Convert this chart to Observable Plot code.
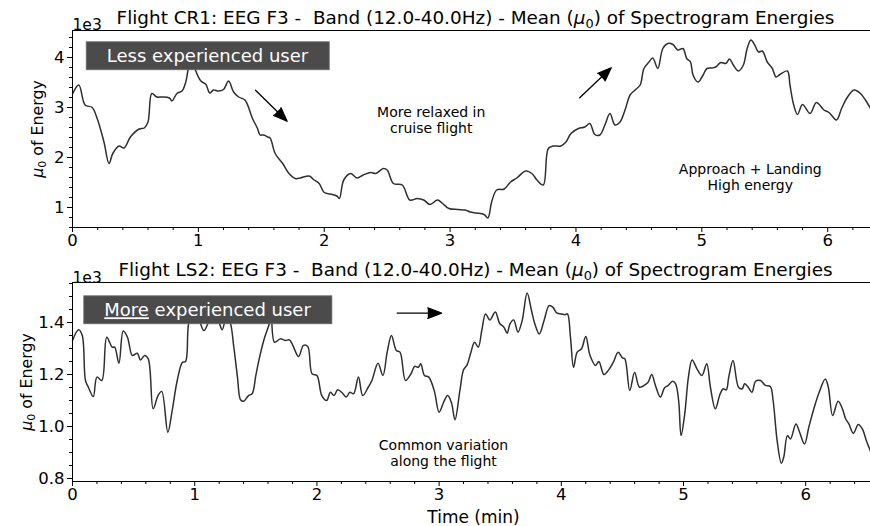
<!DOCTYPE html>
<html>
<head>
<meta charset="utf-8">
<script src="https://cdn.jsdelivr.net/npm/d3@7"></script>
<script src="https://cdn.jsdelivr.net/npm/@observablehq/plot@0.6"></script>
<style>
  body { margin: 0; background: #fff; }
  #chart { width: 870px; height: 526px; font-family: "DejaVu Sans", sans-serif; }
  #chart svg { display: block; font-family: "DejaVu Sans", sans-serif; }
</style>
</head>
<body>
<div id="chart"></div>
<script>
// Flight CR1 (less experienced pilot): mean spectrogram energy, F3, 12-40 Hz, in units of 1e3
const cr1Time = [0.00,0.05,0.10,0.156,0.196,0.25,0.29,0.32,0.37,0.41,0.46,0.53,0.57,0.60,0.63,0.67,0.71,0.77,0.79,0.83,0.87,0.90,0.92,0.95,0.977,1.02,1.06,1.09,1.12,1.16,1.20,1.24,1.28,1.32,1.37,1.43,1.47,1.49,1.52,1.55,1.57,1.61,1.67,1.72,1.77,1.81,1.88,1.92,1.96,2.00,2.05,2.10,2.12,2.155,2.21,2.26,2.31,2.37,2.41,2.47,2.50,2.55,2.62,2.68,2.74,2.79,2.84,2.90,2.94,2.99,3.06,3.12,3.16,3.21,3.27,3.30,3.33,3.37,3.43,3.48,3.53,3.60,3.65,3.69,3.74,3.78,3.82,3.88,3.92,3.96,4.02,4.07,4.11,4.15,4.19,4.23,4.27,4.31,4.35,4.39,4.43,4.47,4.51,4.54,4.58,4.61,4.65,4.69,4.73,4.77,4.81,4.85,4.88,4.91,4.93,4.97,5.01,5.04,5.08,5.11,5.15,5.19,5.22,5.25,5.29,5.33,5.36,5.39,5.42,5.45,5.48,5.52,5.56,5.59,5.62,5.68,5.70,5.73,5.76,5.80,5.86,5.91,5.97,6.01,6.07,6.11,6.15,6.21,6.26,6.30,6.34];
const cr1Energy = [3.27,3.45,3.05,3.00,2.78,2.31,1.88,2.08,2.23,2.19,2.41,2.57,2.59,2.71,3.28,3.21,3.21,3.19,3.13,3.28,3.33,3.51,3.78,4.05,3.75,3.53,3.46,3.29,3.35,3.33,3.36,3.53,3.31,3.21,3.15,2.78,2.58,2.45,2.45,2.41,2.39,2.08,1.88,1.68,1.58,1.59,1.63,1.55,1.48,1.30,1.27,1.23,1.18,1.55,1.68,1.59,1.65,1.70,1.68,1.78,1.75,1.48,1.45,1.15,1.18,1.15,1.06,1.15,1.08,0.98,0.96,0.95,0.91,0.89,0.86,0.79,1.11,1.35,1.37,1.51,1.59,1.73,1.68,1.55,1.45,2.18,2.23,2.23,2.31,2.48,2.58,2.61,2.68,2.46,2.45,2.65,2.88,2.65,2.71,2.95,3.25,3.35,3.45,3.78,3.91,3.99,3.78,4.18,4.28,4.26,4.15,4.18,3.98,3.91,3.65,3.51,3.65,3.78,3.79,3.81,3.90,3.88,3.97,3.85,3.73,3.85,4.18,4.35,4.25,4.11,4.13,3.91,3.78,3.61,3.66,3.73,3.45,3.05,2.86,3.06,2.88,3.10,2.95,2.90,2.75,2.98,3.18,3.35,3.28,3.15,2.98];

// Flight LS2 (more experienced pilot), same measure
const ls2Time = [0.00,0.05,0.08,0.106,0.13,0.17,0.20,0.24,0.28,0.325,0.345,0.38,0.415,0.45,0.49,0.53,0.556,0.59,0.62,0.66,0.70,0.73,0.78,0.816,0.857,0.90,0.925,0.95,0.99,1.03,1.075,1.12,1.16,1.20,1.225,1.26,1.29,1.32,1.35,1.375,1.40,1.44,1.47,1.50,1.525,1.565,1.61,1.625,1.653,1.70,1.74,1.775,1.80,1.85,1.89,1.925,1.96,2.00,2.04,2.08,2.11,2.14,2.17,2.21,2.24,2.27,2.30,2.34,2.375,2.42,2.45,2.50,2.54,2.575,2.61,2.65,2.68,2.725,2.77,2.80,2.83,2.85,2.88,2.915,2.96,3.00,3.04,3.07,3.10,3.13,3.17,3.20,3.23,3.257,3.29,3.32,3.35,3.38,3.415,3.46,3.495,3.53,3.557,3.58,3.61,3.645,3.68,3.72,3.756,3.783,3.82,3.86,3.90,3.93,3.965,4.00,4.03,4.05,4.075,4.10,4.13,4.165,4.20,4.235,4.28,4.307,4.348,4.38,4.425,4.465,4.50,4.52,4.56,4.60,4.64,4.69,4.71,4.74,4.77,4.81,4.845,4.875,4.91,4.935,4.96,4.98,5.01,5.04,5.07,5.11,5.15,5.19,5.22,5.26,5.30,5.325,5.35,5.37,5.405,5.45,5.48,5.50,5.525,5.56,5.59,5.63,5.67,5.71,5.733,5.766,5.80,5.82,5.85,5.875,5.92,5.95,5.99,6.025,6.07,6.11,6.16,6.185,6.22,6.265,6.30,6.326,6.353,6.39,6.43,6.463,6.50,6.53];
const ls2Energy = [1.331,1.372,1.35,1.177,1.151,1.115,1.19,1.177,1.343,1.305,1.305,1.243,1.367,1.343,1.273,1.282,1.256,1.273,1.26,1.068,1.119,1.135,0.978,1.062,1.177,1.247,1.25,1.395,1.45,1.42,1.369,1.41,1.45,1.40,1.372,1.42,1.40,1.305,1.19,1.103,1.097,1.119,1.126,1.196,1.254,1.331,1.395,1.43,1.324,1.337,1.331,1.333,1.315,1.269,1.312,1.308,1.203,1.196,1.119,1.10,1.132,1.119,1.141,1.128,1.113,1.132,1.126,1.19,1.119,1.151,1.177,1.243,1.196,1.286,1.35,1.292,1.286,1.177,1.203,1.231,1.228,1.241,1.196,1.19,1.138,1.055,1.097,1.119,1.093,1.026,1.138,1.218,1.238,1.28,1.324,1.305,1.372,1.433,1.41,1.44,1.397,1.382,1.359,1.395,1.41,1.363,1.408,1.513,1.446,1.395,1.356,1.41,1.465,1.459,1.436,1.433,1.43,1.433,1.343,1.228,1.286,1.299,1.346,1.273,1.235,1.25,1.20,1.213,1.247,1.286,1.264,1.26,1.138,1.209,1.151,1.162,1.17,1.20,1.158,1.113,1.149,1.158,1.174,1.164,1.10,0.965,1.049,1.19,1.256,1.222,1.196,1.241,1.151,1.068,1.126,1.145,1.141,1.19,1.254,1.151,1.145,1.164,1.154,1.132,1.174,1.177,1.158,1.154,1.10,0.946,0.859,0.882,0.965,0.952,1.01,0.978,0.933,0.997,1.074,1.132,1.183,1.151,1.042,1.097,1.068,1.03,1.01,0.974,1.008,0.991,0.94,0.905];

// Axis ticks
const timeTicks = [0, 1, 2, 3, 4, 5, 6];
const cr1EnergyTicks = [1, 2, 3, 4];
const ls2EnergyTicks = [0.8, 1.0, 1.2, 1.4];

// Annotations (data coordinates: minutes, energy / 1e3)
const cr1BadgeLabel = ["Less experienced user"];
const cr1BadgeTime = [1.072];
const cr1BadgeEnergy = [4.02];
const cr1NoteText = ["More relaxed in\ncruise flight", "Approach + Landing\nHigh energy"];
const cr1NoteTime = [2.85, 5.385];
const cr1NoteEnergy = [2.746, 1.612];
const cr1ArrowFrom = [[1.454, 3.346], [4.03, 3.194]];
const cr1ArrowTo = [[1.705, 2.726], [4.28, 3.794]];

const ls2BadgeLabel = ["More experienced user"];
const ls2BadgeTime = [1.105];
const ls2BadgeEnergy = [1.446];
const ls2NoteText = ["Common variation\nalong the flight"];
const ls2NoteTime = [3.036];
const ls2NoteEnergy = [0.898];
const ls2ArrowFrom = [[2.657, 1.436]];
const ls2ArrowTo = [[3.02, 1.436]];

const TITLE_TAIL = " EEG F3 -  Band (12.0-40.0Hz) - Mean (μ0) of Spectrogram Energies";

function minorTicks(lo, hi, step, majors) {
  const out = [];
  for (let k = Math.ceil(lo / step - 1e-9); k * step <= hi + 1e-9; k++) {
    const v = +(k * step).toFixed(6);
    if (!majors.some(m => Math.abs(m - v) < 1e-6)) out.push(v);
  }
  return out;
}

function panel(cfg) {
  const rows = cfg.time.map((t, i) => ({t, e: cfg.energy[i]}));
  const notes = cfg.noteText.map((s, i) => ({s, t: cfg.noteTime[i], e: cfg.noteEnergy[i]}));
  const badge = cfg.badgeLabel.map((s, i) => ({s, t: cfg.badgeTime[i], e: cfg.badgeEnergy[i]}));
  const arrows = cfg.arrowFrom.map((a, i) => ({t1: a[0], e1: a[1], t2: cfg.arrowTo[i][0], e2: cfg.arrowTo[i][1]}));
  const [y0, y1] = cfg.yDomain;
  const marks = [
    Plot.line(rows, {x: "t", y: "e", stroke: "#2f2f2f", strokeWidth: 1.5, curve: "catmull-rom"}),
    Plot.ruleX([0], {stroke: "black", strokeWidth: 1}),
    Plot.ruleY([y0], {stroke: "black", strokeWidth: 1}),
    Plot.ruleY([y1], {stroke: "black", strokeWidth: 1.2}),
    Plot.axisX(timeTicks, {tickSize: 5, tickPadding: 2, fontSize: 16.5, tickFormat: d => String(d), label: null}),
    Plot.axisX(minorTicks(0, cfg.xMax, 0.2, timeTicks), {tickSize: 3, tickFormat: () => "", label: null}),
    Plot.axisY(cfg.yTicks, {tickSize: 5, tickPadding: 3, fontSize: 16.5, tickFormat: cfg.yFormat, label: null}),
    Plot.axisY(minorTicks(y0, y1, cfg.yMinor, cfg.yTicks), {tickSize: 3, tickFormat: () => "", label: null}),
    Plot.text([cfg.title], {frameAnchor: "top", textAnchor: "middle", lineAnchor: "middle", dx: 4, dy: cfg.titleDy, fontSize: 18.4}),
    Plot.text(["1e3"], {frameAnchor: "top-left", textAnchor: "start", lineAnchor: "middle", dx: 0, dy: cfg.expDy, fontSize: 15.5}),
    Plot.text(["μ0 of Energy"], {frameAnchor: "left", textAnchor: "middle", lineAnchor: "middle", rotate: -90, dx: cfg.yLabelDx, fontSize: 15.8}),
    Plot.text(notes, {x: "t", y: "e", text: "s", fontSize: 14, lineHeight: 1.12}),
    Plot.arrow(arrows, {x1: "t1", y1: "e1", x2: "t2", y2: "e2", stroke: "black", fill: "black", strokeWidth: 1.3, headLength: 17, headAngle: 42}),
    Plot.text(badge, {x: "t", y: "e", text: "s", fill: "white", fontSize: 18})
  ];
  if (cfg.xLabel) {
    marks.push(Plot.text([cfg.xLabel], {frameAnchor: "bottom", textAnchor: "middle", lineAnchor: "middle", dx: 2, dy: cfg.xLabelDy, fontSize: 17}));
  }
  return Plot.plot({
    width: 870,
    height: cfg.height,
    marginLeft: 72,
    marginRight: 0,
    marginTop: cfg.marginTop,
    marginBottom: cfg.marginBottom,
    style: {background: "white", color: "black", fontFamily: "DejaVu Sans, sans-serif", overflow: "visible"},
    x: {domain: [0, cfg.xMax], label: null},
    y: {domain: cfg.yDomain, label: null},
    marks
  });
}

const NS = "http://www.w3.org/2000/svg";
function tspan(parent, txt, attrs) {
  const el = document.createElementNS(NS, "tspan");
  el.textContent = txt;
  for (const k in attrs) el.setAttribute(k, attrs[k]);
  parent.appendChild(el);
  return el;
}

// Math-style μ₀, preserved spacing, badge boxes
function finish(svg) {
  svg.querySelectorAll("text").forEach(t => {
    if (t.childElementCount) return;
    const s = t.textContent;
    if (s.includes("μ0")) {
      const fs = parseFloat(getComputedStyle(t).fontSize) || 16;
      const [a, b] = s.split("μ0");
      t.textContent = "";
      t.style.whiteSpace = "pre";
      if (a) tspan(t, a, {});
      tspan(t, "μ", {"font-style": "italic"});
      tspan(t, "0", {"font-size": (fs * 0.7).toFixed(1) + "px", dy: (fs * 0.22).toFixed(1)});
      tspan(t, b, {dy: (-fs * 0.22).toFixed(1)});
    }
  });
  svg.querySelectorAll("text").forEach(t => {
    const s = t.textContent;
    if (s === cr1BadgeLabel[0] || s === ls2BadgeLabel[0]) {
      if (s.startsWith("More ")) {
        t.textContent = "";
        tspan(t, "More", {"text-decoration": "underline"});
        tspan(t, s.slice(4), {});
      }
      const b = t.getBBox();
      const r = document.createElementNS(NS, "rect");
      r.setAttribute("x", b.x - 20.5);
      r.setAttribute("y", b.y - 3.5);
      r.setAttribute("width", b.width + 41);
      r.setAttribute("height", b.height + 7);
      r.setAttribute("fill", "#4b4b4b");
      r.setAttribute("stroke", "#6e6e6e");
      r.setAttribute("stroke-width", "0.8");
      const tr = t.getAttribute("transform");
      if (tr) r.setAttribute("transform", tr);
      t.parentNode.insertBefore(r, t);
    }
  });
}

const root = document.getElementById("chart");
const cr1Panel = panel({
  time: cr1Time, energy: cr1Energy, xMax: 6.34, yDomain: [0.6, 4.54],
  yTicks: cr1EnergyTicks, yMinor: 0.2, yFormat: d => String(d),
  height: 250, marginTop: 30, marginBottom: 23,
  title: "Flight CR1:" + TITLE_TAIL, titleDy: -12.5, expDy: -5, yLabelDx: -35,
  badgeLabel: cr1BadgeLabel, badgeTime: cr1BadgeTime, badgeEnergy: cr1BadgeEnergy,
  noteText: cr1NoteText, noteTime: cr1NoteTime, noteEnergy: cr1NoteEnergy,
  arrowFrom: cr1ArrowFrom, arrowTo: cr1ArrowTo
});
const ls2Panel = panel({
  time: ls2Time, energy: ls2Energy, xMax: 6.53, yDomain: [0.7885, 1.5538],
  yTicks: ls2EnergyTicks, yMinor: 0.05, yFormat: d3.format(".1f"),
  height: 276, marginTop: 32, marginBottom: 45,
  title: "Flight LS2:" + TITLE_TAIL, titleDy: -12, expDy: -4.5, yLabelDx: -46,
  badgeLabel: ls2BadgeLabel, badgeTime: ls2BadgeTime, badgeEnergy: ls2BadgeEnergy,
  noteText: ls2NoteText, noteTime: ls2NoteTime, noteEnergy: ls2NoteEnergy,
  arrowFrom: ls2ArrowFrom, arrowTo: ls2ArrowTo,
  xLabel: "Time (min)", xLabelDy: 35.7
});
root.appendChild(cr1Panel);
root.appendChild(ls2Panel);
finish(cr1Panel);
finish(ls2Panel);
</script>
</body>
</html>
